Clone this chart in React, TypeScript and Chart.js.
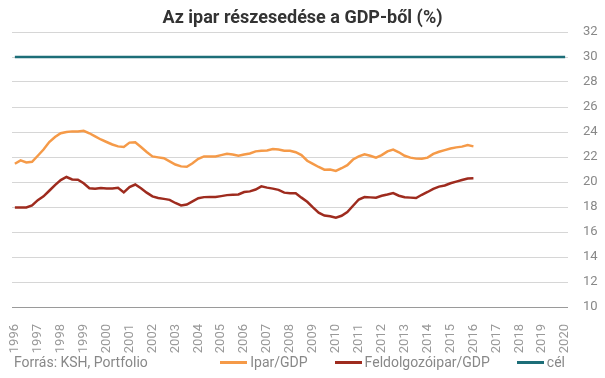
import React, { useEffect, useRef } from "react";
import { Chart, registerables } from "chart.js";

Chart.register(...registerables);

const TITLE = "Az ipar részesedése a GDP-ből (%)";
const SOURCE = "Forrás: KSH, Portfolio";

const YEARS = [
  1996, 1997, 1998, 1999, 2000, 2001, 2002, 2003, 2004, 2005, 2006, 2007,
  2008, 2009, 2010, 2011, 2012, 2013, 2014, 2015, 2016, 2017, 2018, 2019, 2020,
];
const QUARTERS = ["Q1", "Q2", "Q3", "Q4"];

// Quarterly categories 1996 Q1 .. 2020 Q1
const CATEGORIES: string[] = [];
YEARS.forEach((y) => {
  QUARTERS.forEach((q) => {
    if (y < 2020 || q === "Q1") CATEGORIES.push(`${y} ${q}`);
  });
});

// Ipar/GDP (%), 1996 Q1 .. 2016 Q1
const IPAR_GDP = [
  21.46, 21.73, 21.57, 21.62, 22.1, 22.6, 23.2, 23.6, 23.9, 24.0,
  24.05, 24.05, 24.1, 23.9, 23.65, 23.4, 23.2, 23.0, 22.85, 22.8,
  23.15, 23.17, 22.8, 22.4, 22.05, 21.97, 21.9, 21.65, 21.4, 21.25,
  21.22, 21.5, 21.85, 22.05, 22.05, 22.05, 22.15, 22.26, 22.2, 22.1,
  22.2, 22.28, 22.45, 22.5, 22.52, 22.63, 22.6, 22.5, 22.5, 22.38,
  22.15, 21.7, 21.45, 21.2, 20.98, 21.0, 20.88, 21.1, 21.35, 21.8,
  22.05, 22.22, 22.1, 21.95, 22.15, 22.45, 22.6, 22.38, 22.1, 21.95,
  21.87, 21.86, 21.95, 22.25, 22.42, 22.55, 22.68, 22.77, 22.83, 22.95,
  22.85,
];

// Feldolgozóipar/GDP (%), 1996 Q1 .. 2016 Q1
const FELDOLGOZO_GDP = [
  17.97, 17.97, 17.97, 18.12, 18.55, 18.85, 19.3, 19.75, 20.15, 20.4,
  20.2, 20.18, 19.9, 19.5, 19.46, 19.52, 19.48, 19.48, 19.54, 19.17,
  19.6, 19.8, 19.5, 19.15, 18.85, 18.72, 18.65, 18.57, 18.32, 18.12,
  18.2, 18.45, 18.7, 18.79, 18.8, 18.8, 18.87, 18.95, 18.98, 19.0,
  19.2, 19.25, 19.4, 19.65, 19.55, 19.47, 19.37, 19.15, 19.1, 19.1,
  18.75, 18.42, 17.97, 17.55, 17.32, 17.26, 17.15, 17.3, 17.6, 18.1,
  18.6, 18.8, 18.77, 18.75, 18.9, 19.0, 19.12, 18.9, 18.78, 18.75,
  18.72, 18.98, 19.2, 19.45, 19.63, 19.72, 19.9, 20.03, 20.16, 20.28,
  20.3,
];

// Target (cél) level
const CEL = 30;

const Y_MIN = 10;
const Y_MAX = 32;
const Y_STEP = 2;

const SERIES = [
  { label: "Ipar/GDP", color: "#F59A48" },
  { label: "Feldolgozóipar/GDP", color: "#9E2B1E" },
  { label: "cél", color: "#1D6E78" },
];

export default function App() {
  const canvasRef = useRef<HTMLCanvasElement | null>(null);

  useEffect(() => {
    if (!canvasRef.current) return;
    const chart = new Chart(canvasRef.current, {
      type: "line",
      data: {
        labels: CATEGORIES,
        datasets: [
          {
            label: SERIES[0].label,
            data: IPAR_GDP,
            borderColor: SERIES[0].color,
            backgroundColor: SERIES[0].color,
            borderWidth: 2.5,
            pointRadius: 0,
            tension: 0,
          },
          {
            label: SERIES[1].label,
            data: FELDOLGOZO_GDP,
            borderColor: SERIES[1].color,
            backgroundColor: SERIES[1].color,
            borderWidth: 2.5,
            pointRadius: 0,
            tension: 0,
          },
          {
            label: SERIES[2].label,
            data: CATEGORIES.map(() => CEL),
            borderColor: SERIES[2].color,
            backgroundColor: SERIES[2].color,
            borderWidth: 2.5,
            pointRadius: 0,
            tension: 0,
          },
        ],
      },
      options: {
        animation: false,
        responsive: false,
        maintainAspectRatio: false,
        layout: { padding: { top: 32, left: 12, right: 0, bottom: 11 } },
        plugins: {
          legend: { display: false },
          title: { display: false },
          tooltip: { enabled: false },
        },
        scales: {
          x: {
            type: "category",
            offset: true,
            grid: { display: false, offset: false },
            border: { display: false },
            ticks: {
              autoSkip: false,
              minRotation: 90,
              maxRotation: 90,
              padding: 9,
              color: "#999",
              font: { family: "Roboto", size: 13 },
              callback: function (_v: any, i: number) {
                const c = CATEGORIES[i];
                return c.endsWith("Q1") ? c.slice(0, 4) : "";
              },
            },
            afterFit: (axis: any) => {
              axis.height = 60;
            },
          },
          y: {
            position: "right",
            min: Y_MIN,
            max: Y_MAX,
            border: { display: false },
            grid: {
              drawTicks: false,
              lineWidth: 1,
              color: (ctx: any) =>
                ctx.tick && ctx.tick.value === Y_MIN ? "#9a9a9a" : "#d6d6d6",
            },
            ticks: {
              stepSize: Y_STEP,
              padding: 15,
              color: "#888",
              font: { family: "Roboto", size: 13 },
            },
            afterFit: (axis: any) => {
              axis.width = 37;
            },
          },
        },
      },
    });
    return () => chart.destroy();
  }, []);

  return (
    <div
      style={{
        position: "absolute",
        left: 0,
        top: 0,
        width: 605,
        height: 378,
        background: "#fff",
        fontFamily: "Roboto, sans-serif",
      }}
    >
      <canvas
        ref={canvasRef}
        width={605}
        height={378}
        style={{ position: "absolute", left: 0, top: 0, width: 605, height: 378 }}
      />
      <div
        style={{
          position: "absolute",
          left: 0,
          top: 6,
          width: 605,
          textAlign: "center",
          fontWeight: 700,
          fontSize: 18,
          color: "#333",
          lineHeight: "22px",
        }}
      >
        {TITLE}
      </div>
      <div
        style={{
          position: "absolute",
          left: 14,
          top: 354,
          fontSize: 14,
          color: "#888",
          lineHeight: "16px",
        }}
      >
        {SOURCE}
      </div>
      <div
        style={{
          position: "absolute",
          right: 40,
          top: 354,
          display: "flex",
          alignItems: "center",
          fontSize: 14,
          color: "#888",
          lineHeight: "16px",
        }}
      >
        {SERIES.map((s, i) => (
          <div
            key={s.label}
            style={{ display: "flex", alignItems: "center", marginLeft: i === 0 ? 0 : 27 }}
          >
            <span
              style={{
                display: "inline-block",
                width: 27,
                height: 3,
                background: s.color,
                marginRight: 3,
              }}
            />
            <span>{s.label}</span>
          </div>
        ))}
      </div>
    </div>
  );
}
